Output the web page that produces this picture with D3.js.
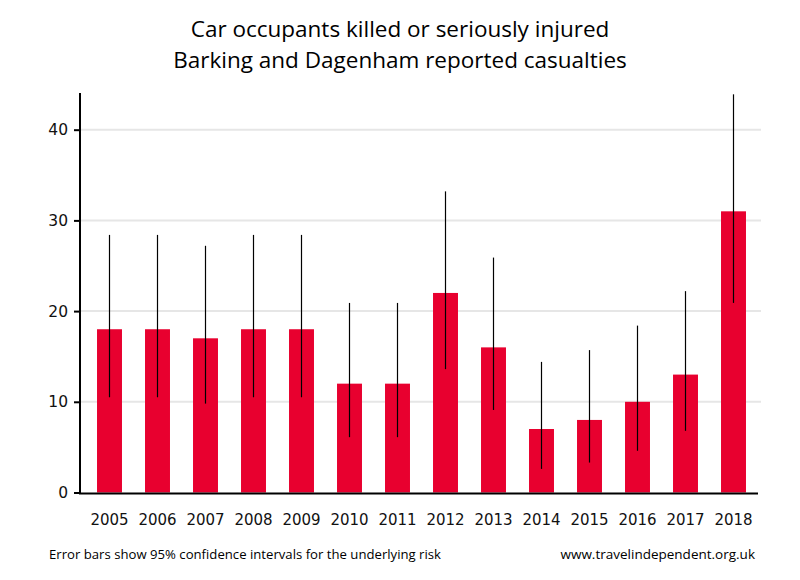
<!DOCTYPE html>
<html><head><meta charset="utf-8">
<script src="https://cdn.jsdelivr.net/npm/d3@7"></script>
<style>body{margin:0;background:#fff}</style>
</head><body>
<svg id="c" width="800" height="580"></svg>
<script>
const years = ["2005","2006","2007","2008","2009","2010","2011","2012","2013","2014","2015","2016","2017","2018"];
const values = [18,18,17,18,18,12,12,22,16,7,8,10,13,31];
const lower = [10.5,10.5,9.8,10.5,10.5,6.1,6.1,13.6,9.1,2.6,3.3,4.6,6.8,20.9];
const upper = [28.4,28.4,27.2,28.4,28.4,20.9,20.9,33.2,25.9,14.4,15.7,18.4,22.2,43.9];
const yTicks = [0,10,20,30,40];
const titleLines = ["Car occupants killed or seriously injured","Barking and Dagenham reported casualties"];

const svg = d3.select("#c");
const y = d3.scaleLinear().domain([0,44.1]).range([492.5,92.5]);
const x = d3.scaleBand().domain(years).range([85.5,757.5]).paddingInner(0.48).paddingOuter(0.24);

// gridlines
svg.append("g").selectAll("line").data(yTicks.filter(d=>d>0)).join("line")
  .attr("x1",80).attr("x2",761).attr("y1",d=>y(d)).attr("y2",d=>y(d))
  .attr("stroke","#e6e6e6").attr("stroke-width",2);

// bars
svg.append("g").selectAll("rect").data(years).join("rect")
  .attr("x",d=>x(d)).attr("width",x.bandwidth())
  .attr("y",(d,i)=>y(values[i])).attr("height",(d,i)=>y(0)-y(values[i]))
  .attr("fill","#e8002f");

// error bars
svg.append("g").selectAll("line").data(years).join("line")
  .attr("x1",d=>x(d)+x.bandwidth()/2).attr("x2",d=>x(d)+x.bandwidth()/2)
  .attr("y1",(d,i)=>y(lower[i])).attr("y2",(d,i)=>y(upper[i]))
  .attr("stroke","#000").attr("stroke-width",1.2);

// y axis
const ya = svg.append("g").attr("transform","translate(80,0)")
  .call(d3.axisLeft(y).tickValues(yTicks).tickSize(6).tickPadding(6));
ya.select(".domain").remove();
ya.selectAll(".tick line").attr("stroke","#000").attr("stroke-width",2);
ya.selectAll(".tick text").attr("font-family","DejaVu Sans, Verdana, sans-serif").attr("font-size",15.5).attr("fill","#111");
svg.append("line").attr("x1",80).attr("x2",80).attr("y1",93).attr("y2",494).attr("stroke","#000").attr("stroke-width",2);

// x axis
const xa = svg.append("g").attr("transform","translate(0,493.5)")
  .call(d3.axisBottom(x).tickSize(0).tickPadding(21));
xa.select(".domain").remove();
xa.selectAll(".tick text").attr("font-family","DejaVu Sans, Verdana, sans-serif").attr("font-size",15).attr("fill","#111");
svg.append("line").attr("x1",79).attr("x2",758).attr("y1",493.5).attr("y2",493.5).attr("stroke","#000").attr("stroke-width",2);

// title
svg.append("g").selectAll("text").data(titleLines).join("text")
  .attr("x",400).attr("y",(d,i)=>37+i*31).attr("text-anchor","middle")
  .attr("font-family","Open Sans, Noto Sans, sans-serif").attr("font-size",22.5).attr("fill","#000")
  .text(d=>d);

// footer
svg.append("text").attr("x",49).attr("y",559).attr("font-family","Open Sans, sans-serif")
  .attr("font-size",13.5).attr("fill","#000").attr("textLength",392).attr("lengthAdjust","spacingAndGlyphs")
  .text("Error bars show 95% confidence intervals for the underlying risk");
svg.append("text").attr("x",755).attr("y",559).attr("text-anchor","end").attr("font-family","Open Sans, sans-serif")
  .attr("font-size",13.5).attr("fill","#000")
  .text("www.travelindependent.org.uk");
</script>
</body></html>
